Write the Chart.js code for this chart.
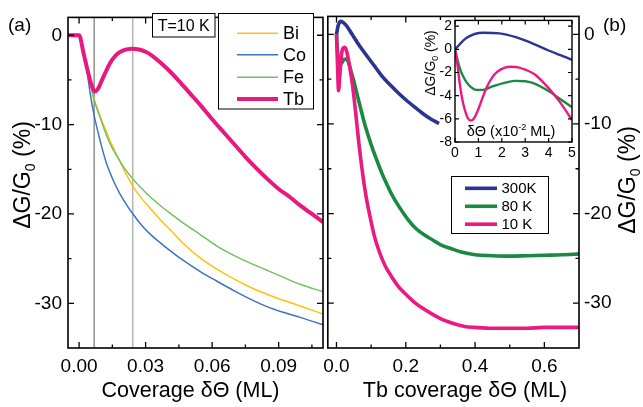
<!DOCTYPE html>
<html>
<head>
<meta charset="utf-8">
<script src="https://cdn.jsdelivr.net/npm/chart.js@4.4.1/dist/chart.umd.min.js"></script>
<style>
html,body{margin:0;padding:0;background:#fff;}
#wrap{position:relative;width:643px;height:407px;overflow:hidden;background:#fff;}
#wrap canvas{position:absolute;}
</style>
</head>
<body>
<div id="wrap">
<canvas id="ca" width="330" height="407" style="left:0;top:0;width:330px;height:407px"></canvas>
<canvas id="cb" width="327" height="407" style="left:316px;top:0;width:327px;height:407px"></canvas>
<canvas id="cc" width="160" height="150" style="left:420px;top:9px;width:160px;height:150px"></canvas>
</div>
<script>
const FONT = '"Liberation Sans", Arial, Helvetica, sans-serif';
Chart.defaults.font.family = FONT;
Chart.defaults.color = '#000';

// ---------- axis ticks ----------
const covTicks = [0, 0.03, 0.06, 0.09];
const covTickLabels = ['0.00', '0.03', '0.06', '0.09'];
const covMinor = [0.015, 0.045, 0.075, 0.105];
const dgTicks = [0, -10, -20, -30];
const dgTickLabels = ['0', '-10', '-20', '-30'];
const dgMinor = [-5, -15, -25];
const tbTicks = [0, 0.2, 0.4, 0.6];
const tbTickLabels = ['0.0', '0.2', '0.4', '0.6'];
const tbMinor = [0.1, 0.3, 0.5];
const insXTicks = [0, 1, 2, 3, 4, 5];
const insXTickLabels = ['0', '1', '2', '3', '4', '5'];
const insYTicks = [2, 0, -2, -4, -6, -8];
const insYTickLabels = ['2', '0', '-2', '-4', '-6', '-8'];
const markerCoverages = [0.0068, 0.0242];

// ---------- panel (a): T = 10 K ----------
const seriesA = ['Bi', 'Co', 'Fe', 'Tb'];
const biX = [-0.005, 0, 0.002, 0.004, 0.0055, 0.0068, 0.0082, 0.0097, 0.0123, 0.0145, 0.0168, 0.0205, 0.0243, 0.028, 0.0318, 0.035, 0.038, 0.042, 0.047, 0.055, 0.0637, 0.07, 0.0772, 0.088, 0.0997, 0.11];
const biY = [0, 0, -2.0, -4.2, -5.8, -7.1, -8.2, -9.2, -10.8, -12.1, -13.3, -15.2, -16.9, -18.2, -19.3, -20.2, -21.0, -22.0, -23.3, -25.0, -26.4, -27.3, -28.2, -29.3, -30.3, -31.2];
const coX = [-0.005, 0, 0.002, 0.0035, 0.005, 0.0068, 0.0086, 0.010, 0.0123, 0.015, 0.0183, 0.0215, 0.0243, 0.028, 0.031, 0.035, 0.040, 0.047, 0.055, 0.062, 0.070, 0.077, 0.085, 0.092, 0.100, 0.110];
const coY = [0, 0, -2.0, -3.9, -6.5, -9.0, -10.9, -12.3, -14.3, -16.0, -17.7, -19.0, -20.0, -21.2, -22.0, -22.9, -23.9, -25.2, -26.5, -27.5, -28.6, -29.5, -30.4, -31.0, -31.6, -32.4];
const feX = [-0.005, 0, 0.002, 0.004, 0.0055, 0.0068, 0.0082, 0.0095, 0.0125, 0.0145, 0.0168, 0.0205, 0.0243, 0.030, 0.0363, 0.042, 0.0475, 0.0546, 0.0622, 0.0695, 0.0772, 0.0847, 0.0922, 0.100, 0.110];
const feY = [0, 0, -2.0, -4.2, -5.9, -7.3, -8.3, -9.2, -11.3, -12.4, -13.4, -14.9, -16.1, -17.6, -19.0, -20.1, -21.1, -22.3, -23.6, -24.6, -25.5, -26.3, -27.1, -27.9, -28.7];
const tbX = [-0.005, 0, 0.002, 0.004, 0.0055, 0.007, 0.0085, 0.010, 0.012, 0.014, 0.016, 0.018, 0.020, 0.022, 0.024, 0.027, 0.030, 0.033, 0.036, 0.040, 0.045, 0.050, 0.055, 0.060, 0.065, 0.070, 0.075, 0.080, 0.085, 0.090, 0.095, 0.100, 0.105, 0.110];
const tbY = [0, 0, -2.0, -4.1, -5.5, -6.3, -6.0, -5.2, -4.1, -3.1, -2.4, -1.95, -1.7, -1.55, -1.5, -1.6, -1.85, -2.3, -2.9, -3.8, -5.1, -6.5, -7.9, -9.4, -10.8, -12.2, -13.6, -14.9, -16.1, -17.2, -18.1, -19.1, -20.0, -20.9];

// ---------- panel (b): Tb at several temperatures ----------
const seriesB = ['300K', '80 K', '10 K'];
const t300X = [0, 0.005, 0.013, 0.02, 0.03, 0.045, 0.06, 0.08, 0.107, 0.13, 0.154, 0.18, 0.2, 0.225, 0.248, 0.27, 0.296];
const t300Y = [0, 1.0, 1.45, 1.3, 0.9, 0.0, -0.9, -2.0, -3.4, -4.6, -5.6, -6.6, -7.3, -8.1, -8.8, -9.4, -9.95];
const t80X = [0, 0.004, 0.009, 0.015, 0.022, 0.029, 0.036, 0.044, 0.05, 0.06, 0.07, 0.08, 0.09, 0.1, 0.112, 0.13, 0.145, 0.16, 0.18, 0.207, 0.23, 0.254, 0.28, 0.301, 0.33, 0.36, 0.4, 0.45, 0.5, 0.55, 0.6, 0.65, 0.7];
const t80Y = [0, -2.3, -3.5, -3.2, -2.8, -2.75, -3.3, -4.4, -5.2, -6.8, -8.3, -9.8, -11.1, -12.3, -13.6, -15.4, -16.7, -17.9, -19.2, -20.7, -21.7, -22.4, -23.0, -23.5, -23.9, -24.3, -24.6, -24.7, -24.75, -24.7, -24.65, -24.6, -24.5];
const t10X = [0, 0.003, 0.006, 0.009, 0.013, 0.018, 0.024, 0.03, 0.038, 0.046, 0.055, 0.065, 0.075, 0.085, 0.095, 0.11, 0.125, 0.14, 0.16, 0.18, 0.2, 0.225, 0.25, 0.28, 0.31, 0.34, 0.37, 0.4, 0.45, 0.5, 0.55, 0.6, 0.65, 0.7];
const t10Y = [0, -3.5, -6.3, -5.0, -2.8, -1.6, -1.45, -2.0, -3.6, -5.6, -8.6, -12.3, -15.4, -18.0, -20.0, -22.6, -24.4, -25.8, -27.1, -28.2, -29.0, -29.9, -30.6, -31.3, -31.9, -32.3, -32.6, -32.7, -32.8, -32.8, -32.8, -32.7, -32.7, -32.7];

// ---------- inset (x in 10^-2 ML) ----------
const i300X = [0, 0.5, 1.2, 1.9, 2.6, 3.3, 4.0, 4.5, 5.0];
const i300Y = [0, 1.0, 1.43, 1.38, 1.05, 0.52, -0.1, -0.5, -0.9];
const i80X = [0, 0.2, 0.35, 0.5, 0.65, 0.9, 1.2, 1.6, 2.2, 2.6, 3.0, 3.4, 4.0, 4.5, 5.0];
const i80Y = [0, -1.6, -2.35, -2.85, -3.2, -3.5, -3.5, -3.2, -2.85, -2.72, -2.75, -2.95, -3.6, -4.3, -5.0];
const i10X = [0, 0.1, 0.2, 0.3, 0.43, 0.55, 0.68, 0.8, 0.95, 1.1, 1.35, 1.6, 1.8, 2.1, 2.4, 2.7, 3.0, 3.4, 4.0, 4.5, 5.0];
const i10Y = [0, -1.3, -2.9, -4.2, -5.3, -5.95, -6.15, -6.0, -5.4, -4.6, -3.3, -2.4, -1.95, -1.6, -1.5, -1.55, -1.75, -2.15, -3.35, -4.6, -6.1];

const C_BI = '#ffc20e', C_CO = '#3d74c4', C_FE = '#72c262', C_TB = '#e8197d';
const C_300 = '#2b3590', C_80 = '#1a8a42', C_10 = '#ea1a80';

function pts(xs, ys) { return xs.map((x, i) => ({ x: x, y: ys[i] })); }

function richText(ctx, parts, x, y, size, rot, align) {
  ctx.save();
  ctx.translate(x, y);
  ctx.rotate(rot || 0);
  let total = 0;
  const segs = parts.map(p => {
    const fs = (p.sub || p.sup) ? size * 0.62 : size;
    ctx.font = fs + 'px ' + FONT;
    const w = ctx.measureText(p.t).width;
    total += w;
    return { p, fs, w };
  });
  let cx = align === 'center' ? -total / 2 : (align === 'right' ? -total : 0);
  ctx.textBaseline = 'alphabetic';
  ctx.textAlign = 'left';
  ctx.fillStyle = '#000';
  segs.forEach(s => {
    ctx.font = s.fs + 'px ' + FONT;
    const dy = s.p.sub ? size * 0.2 : (s.p.sup ? -size * 0.38 : 0);
    ctx.fillText(s.p.t, cx, dy);
    cx += s.w;
  });
  ctx.restore();
}

function makeDecor(cfg) {
  const ox = cfg.ox || 0, oy = cfg.oy || 0;
  return {
    id: 'decor',
    beforeDraw(chart) {
      if (cfg.whiteArea) {
        const a = chart.chartArea, ctx = chart.ctx;
        ctx.save(); ctx.fillStyle = '#fff';
        ctx.fillRect(a.left, a.top, a.right - a.left, a.bottom - a.top);
        ctx.restore();
      }
    },
    beforeDatasetsDraw(chart) {
      if (!cfg.vlines) return;
      const a = chart.chartArea, ctx = chart.ctx, xs = chart.scales.x;
      cfg.vlines.forEach(v => {
        const x = xs.getPixelForValue(v.value);
        ctx.save(); ctx.strokeStyle = v.color; ctx.lineWidth = v.width;
        ctx.beginPath(); ctx.moveTo(x, a.top); ctx.lineTo(x, a.bottom); ctx.stroke();
        ctx.restore();
      });
    },
    afterDatasetsDraw(chart) {
      const a = chart.chartArea, ctx = chart.ctx, xs = chart.scales.x, ys = chart.scales.y;
      const t = cfg.ticks;
      ctx.save();
      ctx.strokeStyle = '#000';
      ctx.lineWidth = t.lw;
      ctx.beginPath();
      const doX = (vals, len) => vals.forEach(v => {
        const x = xs.getPixelForValue(v);
        ctx.moveTo(x, a.bottom); ctx.lineTo(x, a.bottom - len);
        ctx.moveTo(x, a.top); ctx.lineTo(x, a.top + len);
      });
      const doY = (vals, len) => vals.forEach(v => {
        const y = ys.getPixelForValue(v);
        ctx.moveTo(a.left, y); ctx.lineTo(a.left + len, y);
        ctx.moveTo(a.right, y); ctx.lineTo(a.right - len, y);
      });
      doX(t.xMajor, t.major); doX(t.xMinor || [], t.minor);
      doY(t.yMajor, t.major); doY(t.yMinor || [], t.minor);
      ctx.stroke();
      ctx.lineWidth = t.frame;
      ctx.strokeRect(a.left, a.top, a.right - a.left, a.bottom - a.top);
      ctx.restore();
    },
    afterDraw(chart) {
      const ctx = chart.ctx;
      (cfg.boxes || []).forEach(b => {
        ctx.save();
        ctx.fillStyle = '#fff'; ctx.fillRect(b.x - ox, b.y - oy, b.w, b.h);
        ctx.strokeStyle = '#000'; ctx.lineWidth = 1;
        ctx.strokeRect(b.x - ox, b.y - oy, b.w, b.h);
        if (b.text) {
          ctx.fillStyle = '#000'; ctx.font = b.size + 'px ' + FONT;
          ctx.textAlign = 'center'; ctx.textBaseline = 'middle';
          ctx.fillText(b.text, b.x - ox + b.w / 2, b.y - oy + b.h / 2 + 1);
        }
        ctx.restore();
      });
      if (cfg.legend) {
        const L = cfg.legend;
        ctx.save();
        L.labels.forEach((lab, i) => {
          const ds = chart.data.datasets.find(d => d.label === lab);
          const y = L.rowY[i] - oy;
          ctx.strokeStyle = ds.borderColor; ctx.lineWidth = ds.borderWidth;
          ctx.beginPath(); ctx.moveTo(L.lx0 - ox, y); ctx.lineTo(L.lx1 - ox, y); ctx.stroke();
          ctx.fillStyle = '#000'; ctx.font = L.size + 'px ' + FONT;
          ctx.textAlign = 'left'; ctx.textBaseline = 'middle';
          ctx.fillText(lab, L.tx - ox, y + 1);
        });
        ctx.restore();
      }
      (cfg.texts || []).forEach(tx => richText(ctx, tx.parts, tx.x - ox, tx.y - oy, tx.size, tx.rot, tx.align));
    }
  };
}

function setTicks(vals) { return s => { s.ticks = vals.map(v => ({ value: v })); }; }
function fixW(w) { return s => { s.width = w; }; }
function fixH(h) { return s => { s.height = h; }; }

const dgTitle = [{ t: '\u0394G/G' }, { t: '0', sub: true }, { t: ' (%)' }];

// ---------- chart (a) ----------
new Chart(document.getElementById('ca'), {
  type: 'line',
  data: {
    datasets: [
      { label: seriesA[3], data: pts(tbX, tbY), borderColor: C_TB, borderWidth: 4, order: 0 },
      { label: seriesA[0], data: pts(biX, biY), borderColor: C_BI, borderWidth: 1.5, order: 2 },
      { label: seriesA[2], data: pts(feX, feY), borderColor: C_FE, borderWidth: 1.5, order: 1 },
      { label: seriesA[1], data: pts(coX, coY), borderColor: C_CO, borderWidth: 1.5, order: 3 }
    ]
  },
  options: {
    responsive: false, animation: false, devicePixelRatio: 1,
    layout: { padding: { left: 0, right: 7, top: 7, bottom: 0 } },
    elements: { point: { radius: 0 }, line: { cubicInterpolationMode: 'monotone', fill: false } },
    plugins: { legend: { display: false }, tooltip: { enabled: false } },
    scales: {
      x: {
        type: 'linear', min: -0.005, max: 0.11,
        grid: { display: false, drawTicks: false }, border: { display: false },
        afterBuildTicks: setTicks(covTicks), afterFit: fixH(59),
        ticks: { font: { size: 19 }, color: '#000', padding: 7, maxRotation: 0, minRotation: 0, autoSkip: false,
          callback: (v, i) => covTickLabels[i] }
      },
      y: {
        type: 'linear', min: -35, max: 2,
        grid: { display: false, drawTicks: false }, border: { display: false },
        afterBuildTicks: setTicks(dgTicks), afterFit: fixW(68),
        ticks: { font: { size: 19 }, color: '#000', padding: 6, autoSkip: false,
          callback: (v, i) => dgTickLabels[i] }
      }
    }
  },
  plugins: [makeDecor({
    vlines: [{ value: markerCoverages[0], color: '#808080', width: 1.3 }, { value: markerCoverages[1], color: '#b8b8b8', width: 1.6 }],
    ticks: { xMajor: covTicks, xMinor: covMinor, yMajor: dgTicks, yMinor: dgMinor, major: 6, minor: 3.5, lw: 1.3, frame: 1.6 },
    boxes: [{ x: 152.5, y: 13.5, w: 62.5, h: 23.5, text: 'T=10 K', size: 16 }, { x: 218.5, y: 13.5, w: 95, h: 95.5 }],
    legend: { labels: seriesA, rowY: [33.3, 54.8, 77.2, 99], lx0: 237, lx1: 278, tx: 283, size: 18 },
    texts: [
      { parts: [{ t: '(a)' }], x: 8, y: 31, size: 19, rot: 0, align: 'left' },
      { parts: dgTitle, x: 30, y: 175, size: 23, rot: -Math.PI / 2, align: 'center' },
      { parts: [{ t: 'Coverage \u03b4\u0398 (ML)' }], x: 190.5, y: 397, size: 21.5, rot: 0, align: 'center' }
    ]
  })]
});

// ---------- chart (b) ----------
new Chart(document.getElementById('cb'), {
  type: 'line',
  data: {
    datasets: [
      { label: seriesB[0], data: pts(t300X, t300Y), borderColor: C_300, borderWidth: 3.6, order: 0 },
      { label: seriesB[2], data: pts(t10X, t10Y), borderColor: C_10, borderWidth: 3.6, order: 1 },
      { label: seriesB[1], data: pts(t80X, t80Y), borderColor: C_80, borderWidth: 3.6, order: 2 }
    ]
  },
  options: {
    responsive: false, animation: false, devicePixelRatio: 1,
    layout: { padding: { left: 8, right: 0, top: 7, bottom: 0 } },
    elements: { point: { radius: 0 }, line: { cubicInterpolationMode: 'monotone', fill: false } },
    plugins: { legend: { display: false }, tooltip: { enabled: false } },
    scales: {
      x: {
        type: 'linear', min: -0.025, max: 0.7,
        grid: { display: false, drawTicks: false }, border: { display: false },
        afterBuildTicks: setTicks(tbTicks), afterFit: fixH(59),
        ticks: { font: { size: 19 }, color: '#000', padding: 7, maxRotation: 0, minRotation: 0, autoSkip: false,
          callback: (v, i) => tbTickLabels[i] }
      },
      y: {
        type: 'linear', position: 'right', min: -35, max: 2,
        grid: { display: false, drawTicks: false }, border: { display: false },
        afterBuildTicks: setTicks(dgTicks), afterFit: fixW(64),
        ticks: { font: { size: 19 }, color: '#000', padding: 5, autoSkip: false,
          callback: (v, i) => dgTickLabels[i] }
      }
    }
  },
  plugins: [makeDecor({
    ox: 316, oy: 0,
    ticks: { xMajor: tbTicks, xMinor: tbMinor, yMajor: dgTicks, yMinor: dgMinor, major: 6, minor: 3.5, lw: 1.3, frame: 1.6 },
    boxes: [{ x: 451.5, y: 176.5, w: 97, h: 57 }],
    legend: { labels: seriesB, rowY: [188.3, 206.3, 224.2], lx0: 465, lx1: 497, tx: 501.5, size: 15 },
    texts: [
      { parts: [{ t: '(b)' }], x: 603, y: 31, size: 19, rot: 0, align: 'left' },
      { parts: dgTitle, x: 635, y: 180, size: 23, rot: -Math.PI / 2, align: 'center' },
      { parts: [{ t: 'Tb coverage \u03b4\u0398 (ML)' }], x: 465, y: 397, size: 21.5, rot: 0, align: 'center' }
    ]
  })]
});

// ---------- inset ----------
new Chart(document.getElementById('cc'), {
  type: 'line',
  data: {
    datasets: [
      { label: seriesB[0], data: pts(i300X, i300Y), borderColor: C_300, borderWidth: 2.4, order: 0 },
      { label: seriesB[2], data: pts(i10X, i10Y), borderColor: C_10, borderWidth: 2.4, order: 1 },
      { label: seriesB[1], data: pts(i80X, i80Y), borderColor: C_80, borderWidth: 2.4, order: 2 }
    ]
  },
  options: {
    responsive: false, animation: false, devicePixelRatio: 1,
    layout: { padding: { left: 0, right: 8, top: 3, bottom: 0 } },
    elements: { point: { radius: 0 }, line: { cubicInterpolationMode: 'monotone', fill: false } },
    plugins: { legend: { display: false }, tooltip: { enabled: false } },
    scales: {
      x: {
        type: 'linear', min: 0, max: 5,
        grid: { display: false, drawTicks: false }, border: { display: false },
        afterBuildTicks: setTicks(insXTicks), afterFit: fixH(17),
        ticks: { font: { size: 14 }, color: '#000', padding: 3, maxRotation: 0, minRotation: 0, autoSkip: false,
          callback: (v, i) => insXTickLabels[i] }
      },
      y: {
        type: 'linear', min: -8, max: 2.5,
        grid: { display: false, drawTicks: false }, border: { display: false },
        afterBuildTicks: setTicks(insYTicks), afterFit: fixW(35),
        ticks: { font: { size: 14 }, color: '#000', padding: 3, autoSkip: false,
          callback: (v, i) => insYTickLabels[i] }
      }
    }
  },
  plugins: [makeDecor({
    ox: 420, oy: 9, whiteArea: true,
    ticks: { xMajor: insXTicks, yMajor: insYTicks, major: 4, minor: 2, lw: 1.2, frame: 1.4 },
    texts: [
      { parts: dgTitle, x: 435, y: 63, size: 14, rot: -Math.PI / 2, align: 'center' },
      { parts: [{ t: '\u03b4\u0398 (x10' }, { t: '-2', sup: true }, { t: ' ML)' }], x: 511, y: 136, size: 14.5, rot: 0, align: 'center' }
    ]
  })]
});
</script>
</body>
</html>
